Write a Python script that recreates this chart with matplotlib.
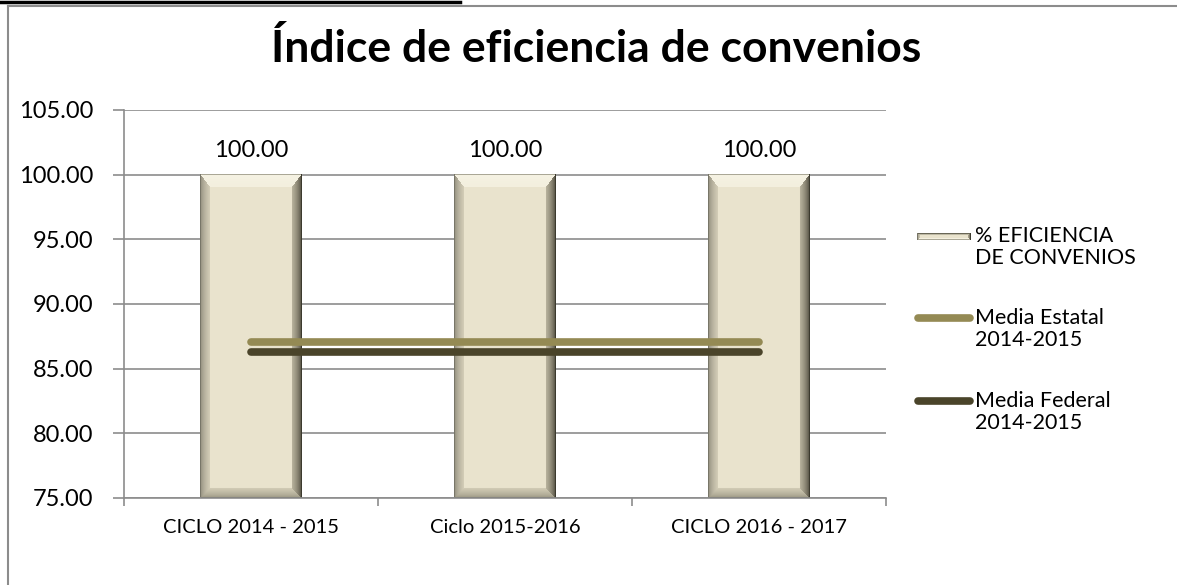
import numpy as np
import matplotlib
matplotlib.use("Agg")
import matplotlib.pyplot as plt
from matplotlib.lines import Line2D

plt.rcParams['font.family'] = ['Lato', 'DejaVu Sans']

# ---- data ----
categories = ["CICLO 2014 - 2015", "Ciclo 2015-2016", "CICLO 2016 - 2017"]
eficiencia = [100.00, 100.00, 100.00]
media_estatal = [87.1, 87.1, 87.1]
media_federal = [86.3, 86.3, 86.3]
yticks = [75, 80, 85, 90, 95, 100, 105]
legend_labels = ["% EFICIENCIA\nDE CONVENIOS", "Media Estatal\n2014-2015", "Media Federal\n2014-2015"]
title = "Índice de eficiencia de convenios"

W, H, DPI = 1177, 585, 100
fig = plt.figure(figsize=(W / DPI, H / DPI), dpi=DPI)
fig.patch.set_facecolor("white")

ax = fig.add_axes([124 / W, 1 - 498 / H, (886 - 124) / W, (498 - 110) / H])
ymin, ymax = 75, 105
ax.set_ylim(ymin, ymax)
ax.set_xlim(-0.5, len(categories) - 0.5)

grid_c = "#8C8C8C"
ax.set_yticks(yticks)
ax.set_yticklabels([f"{v:.2f}" for v in yticks])
ax.yaxis.grid(True, color=grid_c, linewidth=1.2)
ax.set_axisbelow(True)
for s in ["top", "right"]:
    ax.spines[s].set_visible(False)
for s in ["left", "bottom"]:
    ax.spines[s].set_color(grid_c)
    ax.spines[s].set_linewidth(1.2)
ax.tick_params(axis="y", length=8, width=1.2, color=grid_c, pad=14, labelsize=17)

x = np.arange(len(categories))
ax.set_xticks(np.arange(len(categories) + 1) - 0.5)
ax.set_xticklabels([])
ax.set_xticks(x, minor=True)
ax.set_xticklabels(categories, minor=True)
ax.tick_params(axis="x", which="major", length=6, width=1.2, color=grid_c)
ax.tick_params(axis="x", which="minor", length=0, pad=15, labelsize=14.5)


def bevel_image(w, h, bs, bt, bb):
    center = np.array([233, 227, 205], float)
    # (outer colour, inner colour) for left, right, top, bottom facets
    outer = np.array([[138, 134, 118], [70, 67, 54], [246, 243, 228], [150, 146, 126]], float)
    inner = np.array([[214, 208, 186], [190, 184, 162], [243, 239, 222], [212, 206, 184]], float)
    xs = np.arange(w)[None, :].repeat(h, 0).astype(float)
    ys = np.arange(h)[:, None].repeat(w, 1).astype(float)
    d = np.stack([xs / bs, (w - 1 - xs) / bs, ys / bt, (h - 1 - ys) / bb])
    idx = np.argmin(d, axis=0)
    m = np.min(d, axis=0)
    t = np.clip(m, 0, 1)[..., None] ** 0.6
    img = outer[idx] * (1 - t) + inner[idx] * t
    img = np.where((m < 1)[..., None], img, center)
    img[0, :] = [170, 167, 150]
    img[-1, :] = [105, 102, 86]
    img[:, 0] = [120, 118, 104]
    img[:, -1] = [60, 58, 46]
    return img.astype(np.uint8)


bars = ax.bar(x, [v - ymin for v in eficiencia], bottom=ymin, width=0.4,
              color="#E9E3CD", zorder=2, linewidth=0)
for b in bars:
    x0, y0 = b.get_x(), b.get_y()
    x1, y1 = x0 + b.get_width(), y0 + b.get_height()
    p0 = ax.transData.transform((x0, y0))
    p1 = ax.transData.transform((x1, y1))
    pw, ph = int(round(p1[0] - p0[0])), int(round(p1[1] - p0[1]))
    img = bevel_image(pw, ph, 10, 13, 10)
    ax.imshow(img, extent=(x0, x1, y0, y1), aspect="auto", zorder=2.5,
              interpolation="bilinear")
    ax.annotate(f"{b.get_y() + b.get_height():.2f}", (b.get_x() + b.get_width() / 2, y1),
                xytext=(0, 10), textcoords="offset points", ha="center", va="bottom",
                fontsize=17)
ax.set_xlim(-0.5, len(categories) - 0.5)
ax.set_ylim(ymin, ymax)

col_est = "#948A54"
col_fed = "#4A442A"
ax.plot(x, media_estatal, color=col_est, lw=5.5, solid_capstyle="round", zorder=4)
ax.plot(x, media_federal, color=col_fed, lw=5.5, solid_capstyle="round", zorder=4)

# title
fig.text(596 / W, 1 - 49 / H, title, ha="center", va="center", fontsize=32, fontweight="bold")

# legend (manual, handle aligned with first text line)
leg_y = [236, 318, 401]
tx = 975 / W
limg = bevel_image(54, 7, 3, 2, 2)
fig.figimage(np.flipud(limg), xo=917, yo=H - leg_y[0] - 4, origin="upper", zorder=5)
for yy, col in zip(leg_y[1:], [col_est, col_fed]):
    fig.add_artist(Line2D([918 / W, 970 / W], [1 - yy / H] * 2, color=col, lw=5.5,
                          solid_capstyle="round", transform=fig.transFigure))
for yy, lab in zip(leg_y, legend_labels):
    fig.text(tx, 1 - (yy - 10) / H, lab, ha="left", va="top", fontsize=15.5, linespacing=1.15)

# chart border and top rule
fig.add_artist(Line2D([8 / W, 1], [1 - 6 / H] * 2, color="#8C8C8C", lw=1.5, transform=fig.transFigure))
fig.add_artist(Line2D([8 / W] * 2, [0, 1 - 6 / H], color="#8C8C8C", lw=1.5, transform=fig.transFigure))
fig.add_artist(Line2D([0, 460 / W], [1 - 1.5 / H] * 2, color="black", lw=2.5, transform=fig.transFigure))

fig.savefig("out.png", dpi=DPI)
